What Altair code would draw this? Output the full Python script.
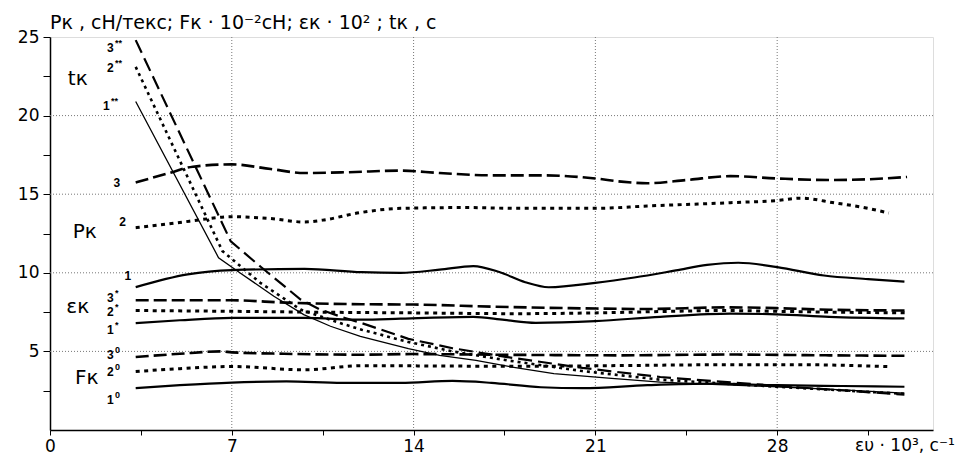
import altair as alt
import pandas as pd

# ---------------- data ----------------
# P_k curves (1 solid, 2 dotted, 3 dashed)
pk1_x = [3.3, 5.3, 7.0, 9.8, 12.0, 13.5, 15.0, 16.3, 17.3, 18.3, 19.2, 21.0, 22.5, 24.1, 25.3, 26.5, 28.0, 29.8, 31.5, 32.9]
pk1_y = [9.09, 9.9, 10.17, 10.25, 10.04, 10.0, 10.2, 10.43, 10.05, 9.4, 9.08, 9.36, 9.7, 10.15, 10.5, 10.64, 10.36, 9.83, 9.6, 9.44]
pk2_x = [3.3, 5.0, 5.9, 7.0, 8.5, 9.8, 10.5, 11.95, 13.5, 16.0, 18.0, 21.0, 23.0, 26.2, 28.0, 28.9, 30.2, 31.5, 32.3]
pk2_y = [12.87, 13.2, 13.4, 13.57, 13.45, 13.23, 13.35, 13.83, 14.1, 14.15, 14.1, 14.1, 14.25, 14.46, 14.6, 14.75, 14.45, 14.1, 13.8]
pk3_x = [3.3, 4.5, 5.5, 7.0, 8.5, 9.8, 11.5, 13.5, 15.0, 17.0, 19.0, 21.0, 22.0, 23.0, 24.5, 26.2, 28.0, 30.0, 31.5, 33.0]
pk3_y = [15.75, 16.3, 16.75, 16.9, 16.6, 16.35, 16.4, 16.5, 16.35, 16.2, 16.2, 16.0, 15.8, 15.7, 15.9, 16.15, 16.0, 15.9, 15.95, 16.1]

# eps_k curves (1* solid, 2* dotted, 3* dashed)
e1_x = [3.3, 5.0, 7.0, 9.8, 12.0, 13.5, 16.3, 17.5, 18.7, 21.0, 23.5, 26.2, 28.0, 30.0, 32.9]
e1_y = [6.8, 6.98, 7.13, 7.13, 7.02, 7.08, 7.2, 7.0, 6.82, 6.93, 7.2, 7.4, 7.36, 7.2, 7.1]
e2_x = [3.3, 7.0, 10.0, 14.0, 18.0, 21.0, 24.0, 26.0, 28.0, 30.0, 33.0]
e2_y = [7.6, 7.55, 7.5, 7.45, 7.4, 7.45, 7.55, 7.6, 7.55, 7.5, 7.45]
e3_x = [3.3, 7.0, 9.1, 12.0, 14.0, 17.0, 20.0, 23.0, 26.0, 28.0, 30.0, 33.0]
e3_y = [8.25, 8.25, 8.1, 8.0, 7.98, 7.85, 7.75, 7.7, 7.8, 7.75, 7.65, 7.6]

# F_k curves (1^0 solid, 2^0 dotted, 3^0 dashed)
f1_x = [3.3, 5.0, 7.0, 9.1, 11.25, 13.5, 15.5, 17.0, 18.9, 20.5, 23.0, 25.5, 28.0, 30.5, 32.9]
f1_y = [2.66, 2.85, 3.02, 3.09, 3.0, 3.0, 3.12, 3.0, 2.72, 2.66, 2.85, 2.95, 2.85, 2.8, 2.75]
f2_x = [3.3, 5.0, 7.0, 9.8, 12.0, 14.0, 18.0, 22.0, 26.0, 29.0, 32.3]
f2_y = [3.72, 3.9, 4.04, 3.83, 4.09, 4.08, 4.05, 4.1, 4.15, 4.15, 4.03]
f3_x = [3.3, 5.0, 6.6, 7.0, 9.0, 12.0, 14.0, 18.0, 22.0, 26.0, 30.0, 33.0]
f3_y = [4.64, 4.85, 5.0, 4.94, 4.85, 4.79, 4.83, 4.78, 4.75, 4.8, 4.75, 4.72]

# t_k curves (1** solid thin, 2** dotted, 3** dashed)
t1_x = [3.3, 6.49, 7.35, 8.62, 9.77, 10.8, 11.95, 13.8, 15.0, 16.4, 17.8, 19.4, 21.5, 23.5, 25.5, 28.0, 30.5, 32.9]
t1_y = [20.9, 10.96, 9.96, 8.51, 7.34, 6.6, 5.96, 5.17, 4.75, 4.43, 4.0, 3.58, 3.3, 3.05, 2.9, 2.75, 2.55, 2.35]
t2_x = [3.3, 6.64, 8.1, 9.65, 11.25, 12.0, 13.8, 15.5, 17.6, 20.5, 23.5, 28.0, 32.9]
t2_y = [23.1, 11.38, 9.36, 7.66, 6.76, 6.38, 5.6, 5.0, 4.43, 3.75, 3.2, 2.75, 2.3]
t3_x = [3.3, 6.96, 8.1, 9.65, 10.4, 11.25, 12.0, 13.8, 15.5, 17.6, 20.5, 23.5, 28.0, 32.9]
t3_y = [24.8, 12.0, 10.4, 8.3, 7.66, 7.18, 6.8, 5.8, 5.2, 4.64, 3.95, 3.37, 2.8, 2.25]

# axis ticks / grid
x_ticks = [0, 3.5, 7, 10.5, 14, 17.5, 21, 24.5, 28, 31.5]
y_ticks = [2.5, 5, 7.5, 10, 12.5, 15, 17.5, 20, 22.5, 25]
x_grid = [7, 14, 21, 28]
y_grid = [5, 10, 15, 20]

# labels (data coordinates)
num_text = ["3", "2", "1", "3", "2", "1", "3", "2", "1"]
num_x = [2.45, 2.45, 2.3, 2.45, 2.45, 2.45, 2.45, 2.45, 2.45]
num_y = [24.3, 23.0, 20.6, 8.4, 7.5, 6.36, 4.77, 3.69, 1.9]
sup_text = ["**", "**", "**", "*", "*", "*", "0", "0", "0"]
sup_x = [2.5, 2.5, 2.35, 2.5, 2.5, 2.5, 2.5, 2.5, 2.5]
pk_num_text = ["3", "2", "1"]
pk_num_x = [2.57, 2.8, 3.0]
pk_num_y = [15.7, 13.2, 9.8]
big_text = ["tк", "Pк", "εк", "Fк"]
big_x = [1.07, 1.34, 1.07, 1.42]
big_y = [22.3, 12.6, 7.8, 3.3]
title_text = "Pк , сН/текс; Fк · 10⁻²сН; εк · 10² ; tк , с"
xtitle_text = "ευ · 10³, с⁻¹"

FONT = "Liberation Sans"
WIDE = "DejaVu Sans"

def frame(name, xs, ys):
    return pd.DataFrame({"series": name, "x": xs, "y": ys})

solid_thick = pd.concat([frame("Pk1", pk1_x, pk1_y), frame("e1", e1_x, e1_y), frame("f1", f1_x, f1_y)])
dotted = pd.concat([frame("Pk2", pk2_x, pk2_y), frame("e2", e2_x, e2_y), frame("f2", f2_x, f2_y)])
dashed = pd.concat([frame("Pk3", pk3_x, pk3_y), frame("e3", e3_x, e3_y), frame("f3", f3_x, f3_y)])
t_solid = frame("t1", t1_x, t1_y)
t_dotted = frame("t2", t2_x, t2_y)
t_dashed = frame("t3", t3_x, t3_y)

xs = alt.Scale(domain=[0, 34], nice=False, zero=False)
ys = alt.Scale(domain=[0, 25], nice=False, zero=False)

X = alt.X("x:Q", scale=xs, axis=alt.Axis(
    values=x_ticks, grid=False, title=None, tickSize=5, tickColor="black",
    domainColor="black", domainWidth=1.5, labelFontSize=17, labelColor="black",
    labelFont=WIDE, labelPadding=3, labelFlush=False,
    labelExpr="datum.value % 7 === 0 ? format(datum.value, 'd') : ''"))
Y = alt.Y("y:Q", scale=ys, axis=alt.Axis(
    values=y_ticks, grid=False, title=None, tickSize=7, tickColor="black",
    domainColor="black", domainWidth=1.5, labelFontSize=17, labelColor="black",
    labelFont=WIDE, labelPadding=4, labelFlush=False,
    labelExpr="datum.value % 5 === 0 ? format(datum.value, 'd') : ''"))

vgrid = alt.Chart(pd.DataFrame({"x": x_grid})).mark_rule(
    color="#777", strokeDash=[1, 2], strokeWidth=1).encode(x=X)
hgrid = alt.Chart(pd.DataFrame({"y": y_grid})).mark_rule(
    color="#777", strokeDash=[1, 2], strokeWidth=1).encode(y=Y)

def lines(df, width, dash=None, interp="monotone"):
    kw = dict(color="black", strokeWidth=width, interpolate=interp, strokeCap="butt")
    if dash:
        kw["strokeDash"] = dash
    return alt.Chart(df).mark_line(**kw).encode(
        x=alt.X("x:Q", scale=xs), y=alt.Y("y:Q", scale=ys), detail="series:N", order="x:Q")

l1 = lines(solid_thick, 2.2)
l2 = lines(dotted, 3, [4, 4.5])
l3 = lines(dashed, 2.6, [13, 5])
l4 = lines(t_solid, 1.3, None, "linear")
l5 = lines(t_dotted, 2.6, [3, 4], "linear")
l6 = lines(t_dashed, 2.2, [14, 6], "linear")

num = alt.Chart(pd.DataFrame({"x": num_x, "y": num_y, "t": num_text})).mark_text(
    font=FONT, fontSize=12, fontWeight="bold", align="right", baseline="middle", color="black"
).encode(x=alt.X("x:Q", scale=xs), y=alt.Y("y:Q", scale=ys), text="t:N")
sup = alt.Chart(pd.DataFrame({"x": sup_x, "y": num_y, "t": sup_text})).mark_text(
    font=FONT, fontSize=9, fontWeight="bold", align="left", baseline="middle", dy=-5, color="black"
).encode(x=alt.X("x:Q", scale=xs), y=alt.Y("y:Q", scale=ys), text="t:N")
pknum = alt.Chart(pd.DataFrame({"x": pk_num_x, "y": pk_num_y, "t": pk_num_text})).mark_text(
    font=FONT, fontSize=12, fontWeight="bold", align="center", baseline="middle", color="black"
).encode(x=alt.X("x:Q", scale=xs), y=alt.Y("y:Q", scale=ys), text="t:N")
big = alt.Chart(pd.DataFrame({"x": big_x, "y": big_y, "t": big_text})).mark_text(
    font=WIDE, fontSize=20, align="center", baseline="middle", color="black"
).encode(x=alt.X("x:Q", scale=xs), y=alt.Y("y:Q", scale=ys), text="t:N")

title = alt.Chart(pd.DataFrame({"x": [0], "y": [25], "t": [title_text]})).mark_text(
    font=WIDE, fontSize=19, align="left", baseline="alphabetic", dy=-8, color="black"
).encode(x=alt.X("x:Q", scale=xs), y=alt.Y("y:Q", scale=ys), text="t:N")
xtitle = alt.Chart(pd.DataFrame({"x": [31.0], "y": [0], "t": [xtitle_text]})).mark_text(
    font=WIDE, fontSize=17, align="left", baseline="top", dy=8, color="black"
).encode(x=alt.X("x:Q", scale=xs), y=alt.Y("y:Q", scale=ys), text="t:N")

axes = alt.Chart(pd.DataFrame({"x": [0], "y": [0]})).mark_point(opacity=0).encode(x=X, y=Y)

chart = alt.layer(axes, vgrid, hgrid, l1, l2, l3, l4, l5, l6, num, sup, pknum, big, title, xtitle).properties(
    width=883, height=393,
    padding={"left": 42, "top": 29, "right": 33, "bottom": 26},
    autosize=alt.AutoSizeParams(type="none"),
).configure_view(stroke="#888", strokeWidth=2).configure(background="white")

chart.save("out.html", embed_options={"renderer": "svg", "actions": False})
